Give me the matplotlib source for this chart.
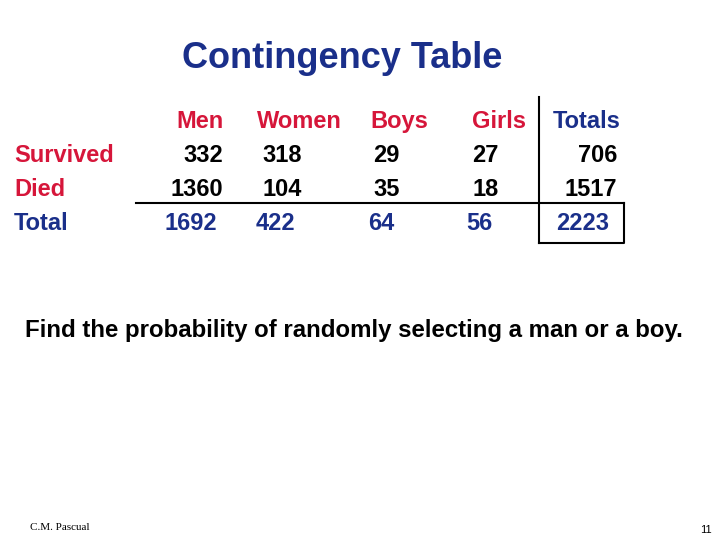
import matplotlib
matplotlib.use("Agg")
import matplotlib.pyplot as plt

columns = ["Men", "Women", "Boys", "Girls", "Totals"]
rows = ["Survived", "Died", "Total"]
survived = [332, 318, 29, 27, 706]
died = [1360, 104, 35, 18, 1517]
total = [1692, 422, 64, 56, 2223]

RED = "#d6163a"
BLUE = "#1a2f8a"
fig = plt.figure(figsize=(7.2, 5.4), dpi=100)
ax = fig.add_axes([0, 0, 1, 1])
ax.set_xlim(0, 720); ax.set_ylim(540, 0); ax.axis("off")
F = dict(family="Liberation Sans", fontsize=17, fontweight="bold", va="baseline")

ax.text(342, 58, "Contingency Table", color=BLUE, fontsize=26, fontweight="bold",
        ha="center", va="center", family="Liberation Sans")
hdr = [(224, "right"), (257, "left"), (370, "left"), (472, "left"), (553, "left")]
for (x, ha), c in zip(hdr, columns):
    ax.text(x, 128, c, color=RED if c != "Totals" else BLUE, ha=ha, **F)
ys = [162, 196, 230]
for y, r in zip(ys, rows):
    ax.text(14, y, r, color=RED if r != "Total" else BLUE, ha="left", **F)
vals_pos = [
    [(223, "right"), (262, "left"), (373, "left"), (472, "left"), (617, "right")],
    [(223, "right"), (262, "left"), (373, "left"), (472, "left"), (617, "right")],
    [(217, "right"), (256, "left"), (368, "left"), (466, "left"), (609, "right")],
]
for i, (y, data) in enumerate(zip(ys, [survived, died, total])):
    for (x, ha), v in zip(vals_pos[i], data):
        ax.text(x, y, str(v), color=BLUE if i == 2 else "black", ha=ha, **F)

ax.plot([136, 624], [203, 203], color="black", lw=1.5)
ax.plot([539, 539], [97, 243], color="black", lw=1.5)
ax.plot([539, 624, 624], [243, 243, 203], color="black", lw=1.5)

ax.text(25, 337, "Find the probability of randomly selecting a man or a boy.", color="black",
        ha="left", **{**F, "fontsize": 17.3})
ax.text(30, 528, "C.M. Pascual", family="Liberation Serif", fontsize=8, ha="left", va="center")
ax.text(712, 530, "11", family="Liberation Sans", fontsize=8, ha="right", va="center")
fig.savefig("out.png", dpi=100)
